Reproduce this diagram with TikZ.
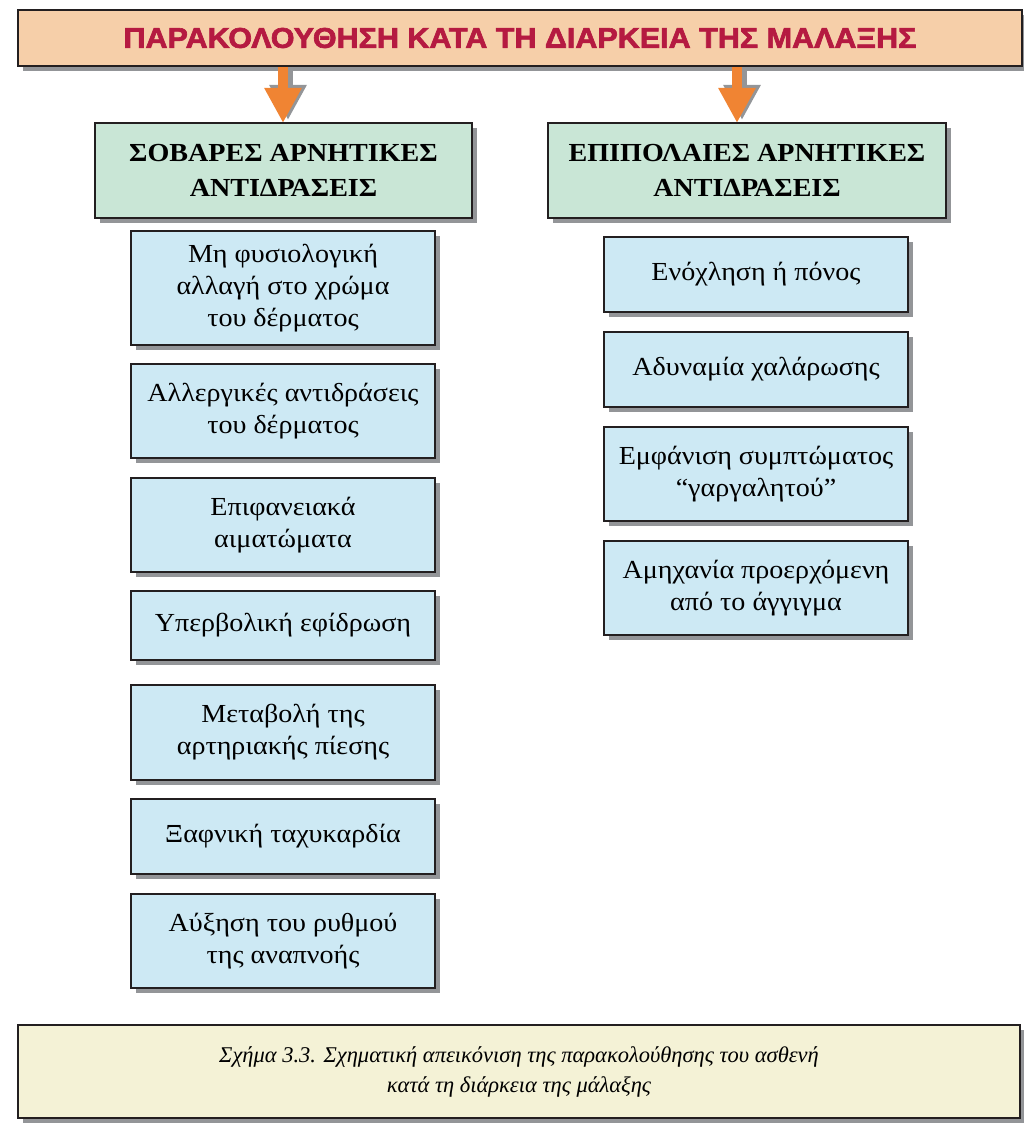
\documentclass[tikz,border=0pt]{standalone}
\usepackage{fontspec}
\setmainfont{Liberation Serif}[FakeStretch=1.08]
\newfontfamily\titlefont{Liberation Sans Bold}[FakeBold=2.2]
\newfontfamily\capfont{Liberation Serif Italic}
\usetikzlibrary{arrows.meta,shadows,calc}
\definecolor{titlefill}{HTML}{F6CFA9}
\definecolor{titletext}{HTML}{B51A41}
\definecolor{headfill}{HTML}{C9E6D6}
\definecolor{itemfill}{HTML}{CDE9F4}
\definecolor{capfill}{HTML}{F4F2D6}
\definecolor{shadowgray}{HTML}{939598}
\definecolor{arroworange}{HTML}{F08433}
\definecolor{edge}{HTML}{231F20}
\begin{document}
\begin{tikzpicture}[x=1pt,y=-1pt,
  boxbase/.style={draw=edge, line width=1.6pt, inner sep=0pt, align=center,
    drop shadow={shadow xshift=5pt, shadow yshift=-5pt, fill=shadowgray, opacity=1}},
  titlebox/.style={boxbase, fill=titlefill, minimum width=1004pt, minimum height=56pt},
  headbox/.style={boxbase, fill=headfill, minimum height=95pt,
    font=\fontsize{26}{35}\selectfont\bfseries},
  itembox/.style={boxbase, fill=itemfill, minimum width=304pt,
    font=\fontsize{26}{32}\selectfont},
  capbox/.style={boxbase, fill=capfill, minimum width=1002pt, minimum height=93pt,
    font=\fontsize{22.5}{30}\selectfont\capfont},
  fatarrow/.style={line width=10pt, -{Triangle[width=35pt,length=35pt]}},
]
\useasboundingbox (0,0) rectangle (1023,1123);

% title
\node[titlebox] (title) at (520,38)
  {\color{titletext}\resizebox{793pt}{20pt}{\titlefont ΠΑΡΑΚΟΛΟΥΘΗΣΗ ΚΑΤΑ ΤΗ ΔΙΑΡΚΕΙΑ ΤΗΣ ΜΑΛΑΞΗΣ}};

% arrow tips
\coordinate (tipL) at (283,123);
\coordinate (tipR) at (737,123);
\draw[fatarrow, shadowgray] ($(tipL |- title.south)+(5,0)$) -- ($(tipL)+(5,-3)$);
\draw[fatarrow, arroworange] (tipL |- title.south) -- (tipL);
\draw[fatarrow, shadowgray] ($(tipR |- title.south)+(5,0)$) -- ($(tipR)+(5,-3)$);
\draw[fatarrow, arroworange] (tipR |- title.south) -- (tipR);

% headers
\node[headbox, minimum width=377pt] (hl) at (283.5,170.5) {ΣΟΒΑΡΕΣ ΑΡΝΗΤΙΚΕΣ\\ΑΝΤΙΔΡΑΣΕΙΣ};
\node[headbox, minimum width=398pt] (hr) at (747,170.5) {ΕΠΙΠΟΛΑΙΕΣ ΑΡΝΗΤΙΚΕΣ\\ΑΝΤΙΔΡΑΣΕΙΣ};

% left items
\node[itembox, minimum height=114pt] (l1) at (283,288) {Μη φυσιολογική\\αλλαγή στο χρώμα\\του δέρματος};
\node[itembox, minimum height=94pt] (l2) at (283,411) {Αλλεργικές αντιδράσεις\\του δέρματος};
\node[itembox, minimum height=94pt] (l3) at (283,525) {Επιφανειακά\\αιματώματα};
\node[itembox, minimum height=69pt] (l4) at (283,625.5) {Υπερβολική εφίδρωση};
\node[itembox, minimum height=95pt] (l5) at (283,732.5) {Μεταβολή της\\αρτηριακής πίεσης};
\node[itembox, minimum height=75pt] (l6) at (283,836.5) {Ξαφνική ταχυκαρδία};
\node[itembox, minimum height=94pt] (l7) at (283,941) {Αύξηση του ρυθμού\\της αναπνοής};

% right items
\node[itembox, minimum height=75pt] (r1) at (756,274.5) {Ενόχληση ή πόνος};
\node[itembox, minimum height=75pt] (r2) at (756,369.5) {Αδυναμία χαλάρωσης};
\node[itembox, minimum height=94pt] (r3) at (756,474) {Εμφάνιση συμπτώματος\\“γαργαλητού”};
\node[itembox, minimum height=94pt] (r4) at (756,588) {Αμηχανία προερχόμενη\\από το άγγιγμα};

% caption
\node[capbox] (cap) at (519,1071.5) {Σχήμα 3.3. Σχηματική απεικόνιση της παρακολούθησης του ασθενή\\κατά τη διάρκεια της μάλαξης};
\end{tikzpicture}
\end{document}
